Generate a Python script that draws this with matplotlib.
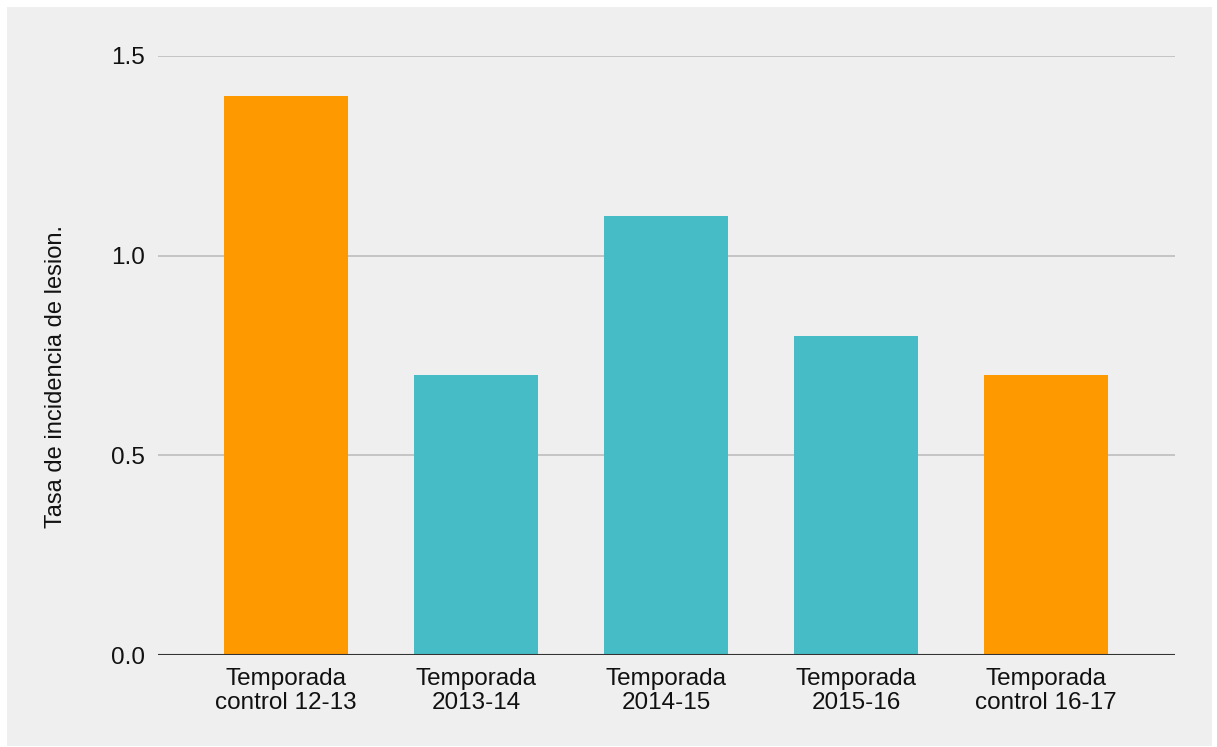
import matplotlib
matplotlib.use("Agg")
import matplotlib.pyplot as plt
from matplotlib.patches import Rectangle

categories = ["Temporada\ncontrol 12-13", "Temporada\n2013-14", "Temporada\n2014-15",
              "Temporada\n2015-16", "Temporada\ncontrol 16-17"]
values = [1.4, 0.7, 1.1, 0.8, 0.7]
bar_colors = ["#ff9900", "#46bdc6", "#46bdc6", "#46bdc6", "#ff9900"]
yticks = [0.0, 0.5, 1.0, 1.5]

plt.rcParams['font.family'] = ['Liberation Sans', 'DejaVu Sans']

W, H = 1217, 747
fig = plt.figure(figsize=(W / 100, H / 100), dpi=100, facecolor="white")
fig.patches.append(Rectangle((7 / W, 1 / H), 1205 / W, 739 / H, transform=fig.transFigure,
                             facecolor="#efefef", edgecolor="none", zorder=-1))

ax = fig.add_axes([158 / W, 1 - 655 / H, 1017 / W, 599 / H])
ax.set_zorder(2)
ax.set_facecolor("none")

x = range(len(categories))
ax.bar(x, values, width=0.655, color=bar_colors, zorder=3)

ax.set_ylim(0, 1.5)
ax.set_xlim(-0.675, 4.68)
ax.set_yticks(yticks)
ax.set_yticklabels([f"{v:.1f}" for v in yticks], fontsize=17.5, color="#111111")
ax.set_xticks(list(x))
ax.set_xticklabels(categories, fontsize=17.5, color="#111111", linespacing=1.12)
ax.tick_params(axis="both", length=0)
ax.tick_params(axis="y", pad=9.5)
ax.tick_params(axis="x", pad=9.5)

for v in yticks[1:]:
    ax.axhline(v, color="#bdbdbd", lw=1.2, zorder=1)
ax.axhline(0, color="#333333", lw=1.5, zorder=4)

for s in ax.spines.values():
    s.set_visible(False)

fig.text(56 / W, 1 - 376 / H, "Tasa de incidencia de lesion.", rotation=90,
         ha="center", va="center", fontsize=17, color="#111111", zorder=3)

fig.savefig("out.png", dpi=100, facecolor="white")
